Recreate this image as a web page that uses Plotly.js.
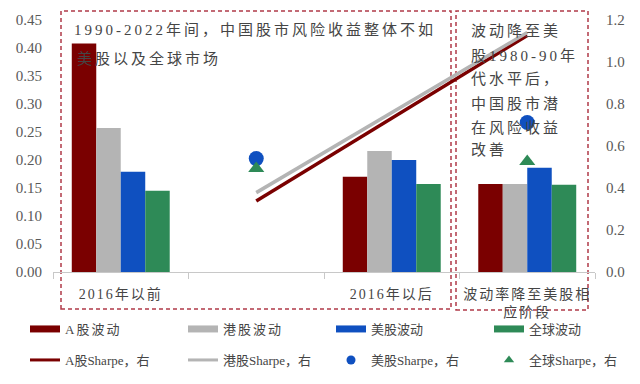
<!DOCTYPE html>
<html>
<head>
<meta charset="utf-8">
<script src="https://cdn.plot.ly/plotly-3.0.1.min.js"></script>
<style>
html,body{margin:0;padding:0;background:#fff;}
#chart{width:640px;height:384px;}
.annotation-text{letter-spacing:3px;}
.legendtext{letter-spacing:2px;}
.xtick text{letter-spacing:2px;}
</style>
</head>
<body>
<div id="chart"></div>
<script>
// ---- data ----
var categories = ["2016年以前", " ", "2016年以后", "波动率降至美股相<br>应阶段"];
var aVol = [0.408, null, 0.170, 0.157];
var hkVol = [0.257, null, 0.216, 0.157];
var usVol = [0.179, null, 0.200, 0.186];
var globalVol = [0.145, null, 0.157, 0.156];
var aSharpe = [null, 0.338, null, 1.126];
var hkSharpe = [null, 0.378, null, 1.140];
var usSharpe = [null, 0.540, null, 0.712];
var globalSharpe = [null, 0.493, null, 0.526];
var barNames = ["A股波动", "港股波动", "美股波动", "全球波动"];
var sharpeNames = ["A股Sharpe，右", "港股Sharpe，右", "美股Sharpe，右", "全球Sharpe，右"];
var leftTicks = [0, 0.05, 0.10, 0.15, 0.20, 0.25, 0.30, 0.35, 0.40, 0.45];
var rightTicks = [0, 0.2, 0.4, 0.6, 0.8, 1.0, 1.2];
var noteLeft = ["1990-2022年间，中国股市风险收益整体不如", "美股以及全球市场"];
var noteRight = ["波动降至美", "股1980-90年", "代水平后，", "中国股市潜", "在风险收益", "改善"];

// ---- styles ----
var cRed = "#7a0000", cGray = "#b4b4b4", cBlue = "#0f50c0", cGreen = "#2e8a57";
var fontFam = "Liberation Serif, Noto Sans CJK SC, serif";
var txtColor = "#454545";

var traces = [];
var barData = [aVol, hkVol, usVol, globalVol];
var barColors = [cRed, cGray, cBlue, cGreen];
for (var i = 0; i < 4; i++) {
  traces.push({type: "bar", x: categories, y: barData[i], name: barNames[i],
    marker: {color: barColors[i]}, showlegend: false, yaxis: "y", hoverinfo: "skip"});
}
traces.push({type: "scatter", mode: "lines", x: categories, y: aSharpe, connectgaps: true,
  yaxis: "y2", line: {color: cRed, width: 3.5}, showlegend: false, name: sharpeNames[0]});
traces.push({type: "scatter", mode: "lines", x: categories, y: hkSharpe, connectgaps: true,
  yaxis: "y2", line: {color: cGray, width: 3.5}, showlegend: false, name: sharpeNames[1]});
traces.push({type: "scatter", mode: "markers", x: categories, y: usSharpe,
  yaxis: "y2", marker: {color: cBlue, size: 15, symbol: "circle"}, showlegend: false, name: sharpeNames[2]});
traces.push({type: "scatter", mode: "markers", x: categories, y: globalSharpe,
  yaxis: "y2", marker: {color: cGreen, size: 14, symbol: "triangle-up"}, showlegend: false, name: sharpeNames[3]});

// legend-only entries (4 legends, 2 items each)
var barLegends = ["legend", "legend", "legend2", "legend2"];
for (var j = 0; j < 4; j++) {
  traces.push({type: "scatter", mode: "lines", x: [null], y: [null], name: barNames[j],
    line: {color: barColors[j], width: 7}, legend: barLegends[j], showlegend: true});
}
traces.push({type: "scatter", mode: "lines", x: [null], y: [null], name: sharpeNames[0],
  line: {color: cRed, width: 3}, legend: "legend3"});
traces.push({type: "scatter", mode: "lines", x: [null], y: [null], name: sharpeNames[1],
  line: {color: cGray, width: 3}, legend: "legend3"});
traces.push({type: "scatter", mode: "markers", x: [null], y: [null], name: sharpeNames[2],
  marker: {color: cBlue, size: 9, symbol: "circle"}, legend: "legend4"});
traces.push({type: "scatter", mode: "markers", x: [null], y: [null], name: sharpeNames[3],
  marker: {color: cGreen, size: 9, symbol: "triangle-up"}, legend: "legend4"});

// pixel -> paper helpers (plot area: x 53..595, y 20..272)
var L = 53, R = 595, T = 20, B = 272;
function px(x) { return (x - L) / (R - L); }
function py(y) { return (B - y) / (B - T); }

var boxColor = "#b03a48";
var shapes = [
  {type: "rect", xref: "paper", yref: "paper", x0: px(61), x1: px(451), y0: py(309), y1: py(11),
    line: {color: boxColor, width: 1.5, dash: "4px,3px"}, layer: "below"},
  {type: "rect", xref: "paper", yref: "paper", x0: px(456), x1: px(588), y0: py(310), y1: py(11),
    line: {color: boxColor, width: 1.5, dash: "4px,3px"}, layer: "below"}
];

var annotations = [];
var leftY = [30, 58], leftX = [72, 75];
for (var a = 0; a < noteLeft.length; a++) {
  annotations.push({xref: "paper", yref: "paper", x: px(leftX[a]), y: py(leftY[a]), text: noteLeft[a],
    showarrow: false, xanchor: "left", yanchor: "middle", font: {family: fontFam, size: 15, color: txtColor}});
}
var rightY = [31, 56, 79, 104, 128, 150];
for (var b = 0; b < noteRight.length; b++) {
  annotations.push({xref: "paper", yref: "paper", x: px(469), y: py(rightY[b]), text: noteRight[b],
    showarrow: false, xanchor: "left", yanchor: "middle", font: {family: fontFam, size: 15, color: txtColor}});
}

function legendAt(xPix, yPix) {
  return {orientation: "h", x: px(xPix), xanchor: "left", y: py(yPix), yanchor: "middle",
    entrywidth: 113, entrywidthmode: "pixels", bgcolor: "rgba(0,0,0,0)", tracegroupgap: 0,
    font: {family: fontFam, size: 13, color: txtColor}};
}

var layout = {
  width: 640, height: 384,
  margin: {l: L, r: 640 - R, t: T, b: 384 - B, autoexpand: false},
  paper_bgcolor: "#ffffff", plot_bgcolor: "#ffffff",
  barmode: "group", bargap: 0.277, bargroupgap: 0,
  font: {family: fontFam, color: txtColor},
  xaxis: {type: "category", categoryorder: "array", categoryarray: categories,
    range: [-0.5, 3.5], tickson: "boundaries", ticks: "outside", ticklen: 6, tickcolor: "#c8c8c8",
    showline: true, linecolor: "#c8c8c8", linewidth: 1, showgrid: false, zeroline: false,
    ticklabelstandoff: 9, automargin: false,
    tickfont: {family: fontFam, size: 14, color: txtColor}, fixedrange: true},
  yaxis: {range: [0, 0.45], tickvals: leftTicks, tickformat: ".2f", showgrid: false, zeroline: false,
    showline: false, ticks: "", ticklabelstandoff: 10, automargin: false,
    tickfont: {family: fontFam, size: 15, color: "#595959"}},
  yaxis2: {overlaying: "y", side: "right", range: [0, 1.2], tickvals: rightTicks, tickformat: ".1f",
    showgrid: false, zeroline: false, showline: false, ticks: "", ticklabelstandoff: 10, automargin: false,
    tickfont: {family: fontFam, size: 15, color: "#595959"}},
  legend: legendAt(25, 329),
  legend2: legendAt(331, 329),
  legend3: legendAt(25, 360),
  legend4: legendAt(331, 360),
  shapes: shapes,
  annotations: annotations,
  showlegend: true
};

Plotly.newPlot("chart", traces, layout, {displayModeBar: false, staticPlot: true});
</script>
</body>
</html>
